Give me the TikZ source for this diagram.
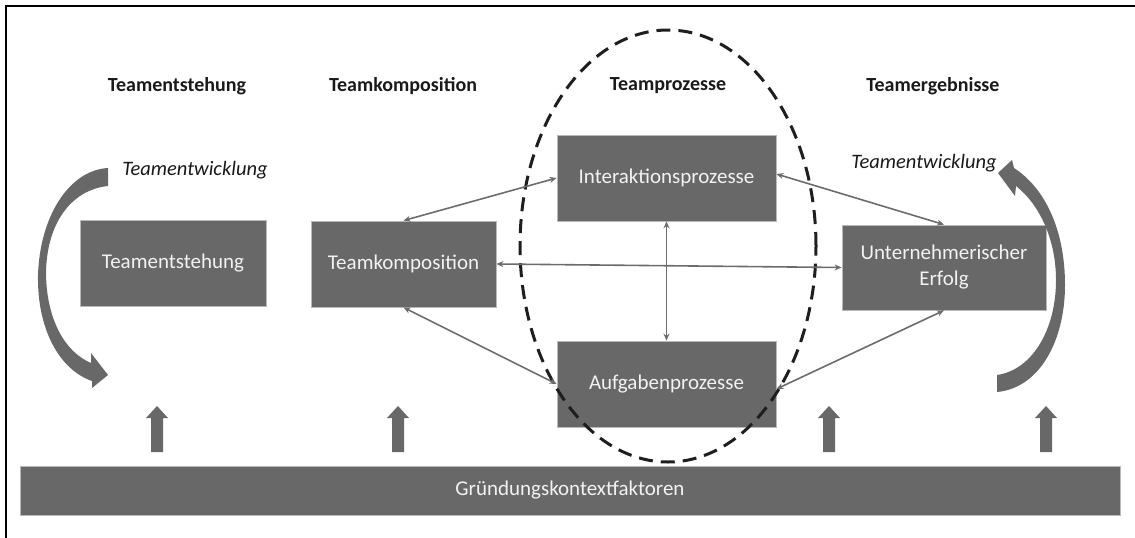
\documentclass[tikz,border=0pt]{standalone}
\usepackage{fontspec}
\setmainfont{Carlito}
\usetikzlibrary{arrows.meta}
\definecolor{boxgray}{RGB}{104,104,104}
\definecolor{linegray}{RGB}{108,108,108}
\definecolor{boxtext}{RGB}{242,242,242}
\definecolor{dashcol}{RGB}{30,30,30}
\tikzset{
  procbox/.style={draw=gray!55, line width=0.8pt, fill=boxgray, text=boxtext,
    font=\fontsize{21}{26}\selectfont, align=center, inner sep=0pt},
  header/.style={font=\fontsize{20}{24}\selectfont\bfseries, text=black!90},
  italabel/.style={font=\fontsize{20.5}{24}\selectfont\itshape, text=black!90},
  link/.style={linegray, line width=1.6pt, {Stealth[length=7pt,width=6pt]}-{Stealth[length=7pt,width=6pt]}},
  bigarrow/.style={fill=boxgray, draw=none}
}
\begin{document}
\begin{tikzpicture}[x=1pt,y=-1pt]
\useasboundingbox (0,0) rectangle (1135,538);
% frame (left and top edges visible)
\draw[line width=2pt] (6,538) -- (6,6) -- (1135,6);

% headers
\node[header] (h1) at (177,86) {Teamentstehung};
\node[header] (h2) at (403,86) {Teamkomposition};
\node[header] (h3) at (668,86) {Teamprozesse};
\node[header] (h4) at (933,86) {Teamergebnisse};

% boxes
\node[procbox, minimum width=186pt, minimum height=86pt] (ent) at (173,263) {Teamentstehung};
\node[procbox, minimum width=185pt, minimum height=86pt] (komp) at (403.5,264) {Teamkomposition};
\node[procbox, minimum width=219pt, minimum height=86pt] (inter) at (666.5,178) {Interaktionsprozesse};
\node[procbox, minimum width=219pt, minimum height=86pt] (aufg) at (666.5,384) {Aufgabenprozesse};
\node[procbox, minimum width=204pt, minimum height=85pt] (unt) at (944,267.5) {Unternehmerischer\\Erfolg};
\node[procbox, minimum width=1100pt, minimum height=49pt] (bar) at (570,490.5) {Gründungskontextfaktoren};

% dashed ellipse
\draw[dashcol, line width=3pt, dash pattern=on 14pt off 8pt] (668,246) ellipse [x radius=148pt, y radius=216pt];

% connectors
\draw[link] (inter.west) -- (komp.north);
\draw[link] (komp.east) -- (unt.west);
\draw[link] (komp.south) -- (aufg.west);
\draw[link] (inter.south) -- (aufg.north);
\draw[link] ([yshift=4pt]inter.east) -- (unt.north);
\draw[link] ([yshift=-5pt]aufg.east) -- (unt.south);

% up arrows
\foreach \ax in {157,398,829,1046}{
  \fill[bigarrow] (\ax-6,452) -- (\ax-6,418) -- (\ax-11,418) -- (\ax,406) -- (\ax+11,418) -- (\ax+6,418) -- (\ax+6,452) -- cycle;
}

% curved arrows (Teamentwicklung)
\fill[bigarrow] (108,168) .. controls (70,170) and (40,215) .. (38,275)
  .. controls (37,330) and (60,370) .. (92,381)
  -- (92,388) -- (108,375) -- (91,353) -- (91,363)
  .. controls (65,352) and (47,320) .. (46,275)
  .. controls (46,225) and (70,190) .. (108,186) -- cycle;
\fill[bigarrow] (997,392) .. controls (1040,388) and (1065,340) .. (1065,285)
  .. controls (1065,230) and (1045,188) .. (1014,168)
  -- (1012,160) -- (998,173) -- (1015,196) -- (1016,186)
  .. controls (1040,205) and (1056,240) .. (1056,280)
  .. controls (1056,330) and (1032,370) .. (997,375) -- cycle;

\node[italabel] (tw1) at (195,170) {Teamentwicklung};
\node[italabel] (tw2) at (924,163) {Teamentwicklung};
\end{tikzpicture}
\end{document}
